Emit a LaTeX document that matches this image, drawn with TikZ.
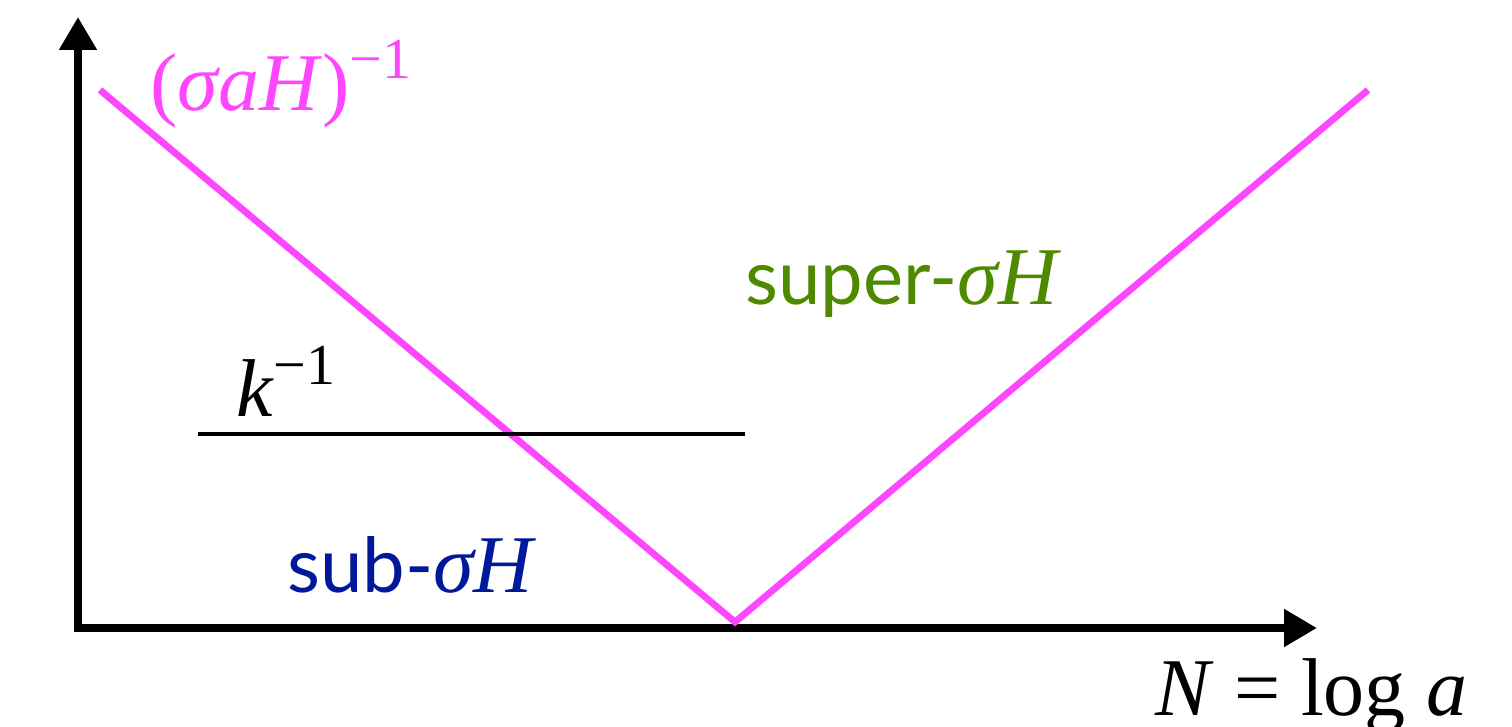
\documentclass[tikz,border=0pt]{standalone}
\usepackage{fontspec}
\setmainfont{Liberation Serif}
\newfontfamily\labfont{Lato}
\usetikzlibrary{arrows.meta}
\definecolor{vpink}{RGB}{255,70,255}
\definecolor{supgreen}{RGB}{78,138,0}
\definecolor{subblue}{RGB}{0,24,154}
\newcommand\bigtxt{\fontsize{41}{46}\selectfont}
\newcommand\sanstxt{\labfont\fontsize{38}{44}\selectfont}
\newcommand\mysup[1]{\raisebox{0.4em}{\fontsize{29}{31}\selectfont #1}}
\begin{document}
\begin{tikzpicture}[x=0.5pt,y=-0.5pt,
  axis/.style={line width=4pt,-{Triangle[length=16.5pt,width=18pt]}},
  vline/.style={line width=3.4pt,draw=vpink,miter limit=20},
  kline/.style={line width=2.4pt},
  lab/.style={inner sep=0pt,anchor=base west,font=\bigtxt}]
\useasboundingbox (0,0) rectangle (1512,727);
\coordinate (o) at (78,628);
\coordinate (ytip) at (78,17);
\coordinate (xtip) at (1317,628);
\draw[axis] (78,632) -- (ytip);
\draw[axis] (74,628) -- (xtip);
\coordinate (vl) at (100,90);
\coordinate (vb) at (735,622);
\coordinate (vr) at (1368,90);
\draw[vline] (vl) -- (vb) -- (vr);
\coordinate (ka) at (198,434);
\coordinate (kb) at (745,434);
\draw[kline] (ka) -- (kb);
\node[lab,text=vpink] (sah) at (150,111) {(\textit{σaH})\mysup{−1}};
\node[lab] (kinv) at (236,417) {\textit{k}\mysup{−1}};
\node[lab,text=supgreen] (super) at (745,305) {{\sanstxt super-}\textit{σH}};
\node[lab,text=subblue] (sub) at (287,592) {{\sanstxt sub-}\textit{σH}};
\node[lab] (nlog) at (1155,715) {\textit{N} = log \textit{a}};
\end{tikzpicture}
\end{document}
